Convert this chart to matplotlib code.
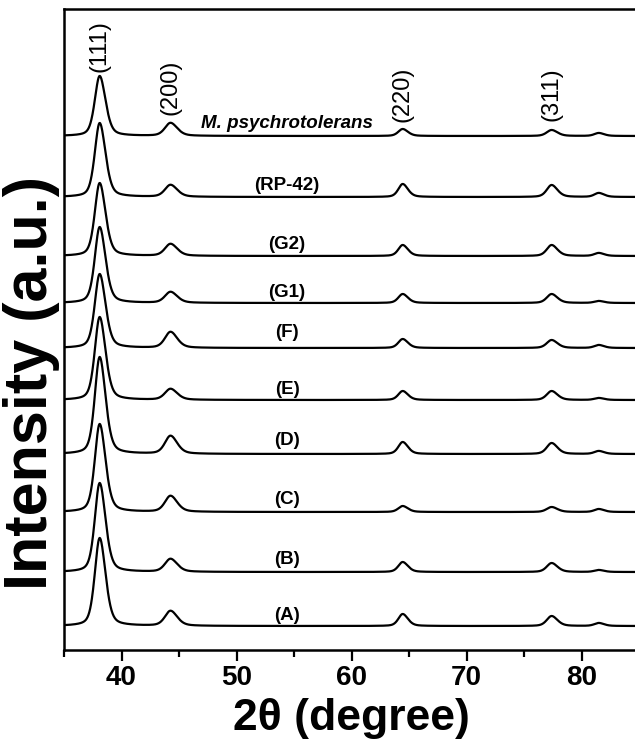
import numpy as np
import matplotlib
matplotlib.use("Agg")
import matplotlib.pyplot as plt
from matplotlib.ticker import MultipleLocator

plt.rcParams['font.family'] = ['Liberation Sans', 'DejaVu Sans']

# ---- data ----
samples = ['(A)', '(B)', '(C)', '(D)', '(E)', '(F)', '(G1)', '(G2)', '(RP-42)', 'M. psychrotolerans']
offsets = [24, 78, 138, 196, 250, 302, 347, 394, 453, 514]        # baseline of each trace (a.u.)
peak_pos = [38.1, 44.26, 64.45, 77.4, 81.5]                         # 2theta of (111),(200),(220),(311),(222)
peak_fwhm = [1.0, 1.15, 0.9, 1.0, 0.9]
h111 = [88, 89, 88, 97, 83, 74, 76, 73, 74, 60]
h200 = [15, 13, 16, 18, 11, 16, 11, 12, 12, 13]
h220 = [12, 10, 6, 12, 9, 9, 9, 11, 13, 7]
h311 = [10, 9, 5, 11, 9, 8, 9, 11, 12, 6]
h222 = [3, 2, 3, 3, 2, 3, 2, 3, 4, 3]
hkl_labels = ['(111)', '(200)', '(220)', '(311)']
hkl_label_y = [604, 563, 556, 556]
label_y = [35, 91, 151, 210, 261, 318, 358, 406, 465, 527]
label_x = 54.4

x = np.linspace(35, 85, 2001)


def pv(x, c, h, w, eta=0.4, asym=1.2):
    # pseudo-Voigt peak, slightly broader on the high-angle side
    ww = np.where(x > c, w * asym, w)
    g = np.exp(-4 * np.log(2) * ((x - c) / ww) ** 2)
    l = 1.0 / (1 + 4 * ((x - c) / ww) ** 2)
    return h * (eta * l + (1 - eta) * g)


fig = plt.figure(figsize=(6.35, 7.5), dpi=100)
ax = fig.add_axes([0.1008, 0.1333, 0.9055, 0.8547])

heights = list(zip(h111, h200, h220, h311, h222))
for i, name in enumerate(samples):
    y = np.full_like(x, float(offsets[i]))
    for p, w, h in zip(peak_pos, peak_fwhm, heights[i]):
        y = y + pv(x, p, h, w)
    ax.plot(x, y, color='black', lw=1.6)
    if name.startswith('M.'):
        ax.text(label_x, label_y[i], name, fontsize=13.5, fontweight='bold',
                style='italic', ha='center', va='center')
    else:
        ax.text(label_x, label_y[i], name, fontsize=13.5, fontweight='bold',
                ha='center', va='center')

for lab, p, yy in zip(hkl_labels, peak_pos, hkl_label_y):
    ax.text(p, yy, lab, rotation=90, fontsize=17, ha='center', va='center')

ax.set_xlim(35, 85)
ax.set_ylim(0, 641)
ax.set_yticks([])
ax.xaxis.set_minor_locator(MultipleLocator(5))
ax.set_xticks([40, 50, 60, 70, 80])
ax.tick_params(axis='x', which='major', direction='out', length=8, width=1.6,
               labelsize=20, pad=3)
ax.tick_params(axis='x', which='minor', direction='out', length=5, width=1.6)
for lbl in ax.get_xticklabels():
    lbl.set_fontweight('bold')
for s in ['left', 'bottom', 'top', 'right']:
    ax.spines[s].set_linewidth(1.8)

ax.set_xlabel('2θ (degree)', fontsize=32, fontweight='bold', labelpad=5)
fig.text(32 / 635, 1 - 383 / 750, 'Intensity (a.u.)', rotation=90,
         fontsize=44, fontweight='bold', ha='center', va='center')

fig.savefig('out.png', dpi=100)
